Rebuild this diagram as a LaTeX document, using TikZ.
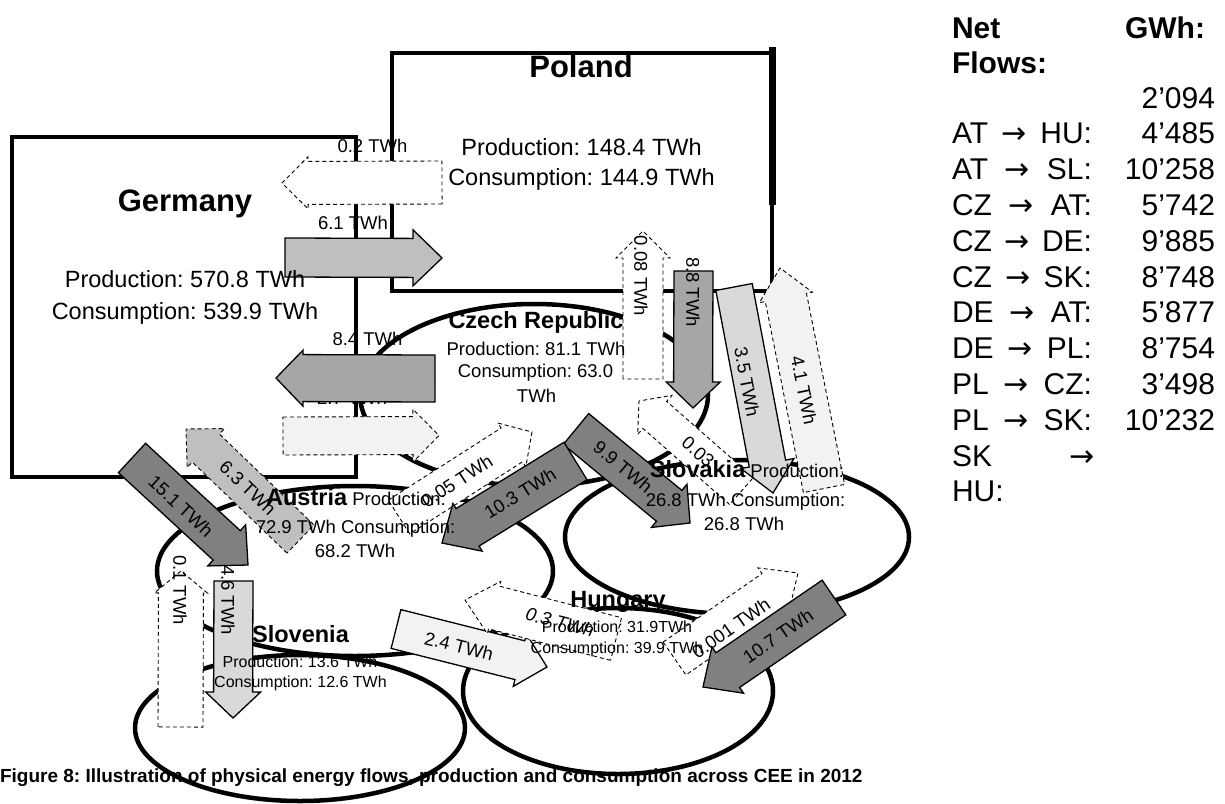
\documentclass[tikz,border=0pt]{standalone}
\usepackage{fontspec}
\setmainfont{Liberation Sans}
\newfontfamily\symfont{DejaVu Sans}
\usetikzlibrary{calc}

\definecolor{flowdark}{HTML}{808080}
\definecolor{flowmid}{HTML}{A6A6A6}
\definecolor{flowlight}{HTML}{BFBFBF}
\definecolor{flowpale}{HTML}{D9D9D9}
\definecolor{flowfaint}{HTML}{F2F2F2}

\newcommand\fsz[1]{\fontsize{#1}{#1}\selectfont}
\newcommand\ra{{\symfont →}}
\frenchspacing

% block arrow: style, name, tail centre, tip, body half width, head half width, head length
\newcommand\blockarrow[7]{%
  \coordinate (#2-t) at (#3);
  \coordinate (#2-h) at (#4);
  \coordinate (#2-b) at ($(#2-h)!#7pt!(#2-t)$);
  \draw[#1] ($(#2-t)!#5pt!90:(#2-h)$) -- ($(#2-b)!#5pt!90:(#2-h)$)
    -- ($(#2-b)!#6pt!90:(#2-h)$) -- (#2-h) -- ($(#2-b)!#6pt!-90:(#2-h)$)
    -- ($(#2-b)!#5pt!-90:(#2-h)$) -- ($(#2-t)!#5pt!-90:(#2-h)$) -- cycle;
}

\tikzset{
  region/.style={draw=black, line width=4.5pt},
  netflow/.style={draw=black, line width=1.3pt, line join=miter},
  minorflow/.style={draw=black, line width=0.9pt, dash pattern=on 4pt off 3pt, line join=miter},
  txt/.style={inner sep=0pt, outer sep=0pt},
  flowlabel/.style={txt, font=\fsz{18.5}},
  bigname/.style={txt, anchor=base, font=\fsz{31}\bfseries},
  bigdata/.style={txt, anchor=base, font=\fsz{23.5}},
  midname/.style={txt, anchor=base, font=\fsz{23.5}\bfseries},
  middata/.style={txt, anchor=base, font=\fsz{18.5}},
  smalldata/.style={txt, anchor=base, font=\fsz{16}},
  legendtext/.style={txt, font=\fsz{30}},
  legendhead/.style={txt, font=\fsz{30}\bfseries, anchor=base west},
}

\begin{document}
\begin{tikzpicture}[x=1pt,y=-1pt]
\useasboundingbox (0,0) rectangle (1225,803);

% labels of the flows between Germany and its neighbours
\node[flowlabel, anchor=base] (l02) at (372.5,152) {0.2 TWh};
\node[flowlabel, anchor=base] (l61) at (353,229) {6.1 TWh};
\node[flowlabel, anchor=base] (l84) at (367.5,345) {8.4 TWh};
\node[flowlabel, anchor=base] (l27) at (352,404) {2.7 TWh};

% countries
\draw[region] (12,137) rectangle (356,477);
\draw[region] (392,53) rectangle (772,291);
\draw[line width=7pt] (772,47) -- (772,205);
\draw[region] (534,395) ellipse [x radius=174pt, y radius=91pt];
\draw[region] (737,537) ellipse [x radius=172pt, y radius=77pt];
\draw[region] (355,571) ellipse [x radius=198pt, y radius=85pt];
\draw[region] (618,691) ellipse [x radius=155pt, y radius=83pt];
\draw[region] (300,728) ellipse [x radius=165pt, y radius=73pt];

% physical flows
\blockarrow{minorflow, fill=white}{a02}{442,182.5}{282,183}{21.5}{26}{26}
\blockarrow{netflow, fill=flowlight}{a61}{285,257.5}{442,258}{19.5}{28}{29}
\blockarrow{netflow, fill=flowmid}{a84}{435,378.5}{276,378}{23.5}{28}{27}
\blockarrow{minorflow, fill=flowfaint}{a27}{283,436}{439,435.5}{19}{26.5}{26}
\blockarrow{minorflow, fill=flowlight}{a63}{300.5,539}{186,429}{19.5}{27}{27.5}
\blockarrow{netflow, fill=flowdark}{a151}{132,458}{248,565}{20}{28}{29}
\blockarrow{minorflow, fill=white}{a01}{180.5,727}{181,571}{22.5}{26.5}{22}
\blockarrow{netflow, fill=flowpale}{a46}{233.5,581}{233,718}{19.5}{27.5}{26}
\blockarrow{minorflow, fill=white}{a008}{643,379}{643,231}{20}{27}{27}
\blockarrow{minorflow, fill=white}{a003}{741.5,491}{639,401}{18}{26}{21}
\blockarrow{netflow, fill=flowmid}{a88}{693.5,271}{693,408}{19.5}{27}{26}
\blockarrow{netflow, fill=flowpale}{a35}{734,287}{773,493}{18.5}{27}{30}
\blockarrow{minorflow, fill=flowfaint}{a41}{824,488.5}{780,268}{21}{27}{30}
\blockarrow{minorflow, fill=white}{a005}{399,517}{532,432}{20}{26}{24}
\blockarrow{netflow, fill=flowdark}{a99}{576,429}{690,523}{20}{28}{27}
\blockarrow{netflow, fill=flowdark}{a103}{575.5,461}{442,543}{22}{28}{30}
\blockarrow{netflow, fill=flowfaint}{a24}{396,629}{547,667}{20}{27}{28}
\blockarrow{minorflow, fill=white}{a03}{616,639}{465,600}{22}{27}{30}
\blockarrow{minorflow, fill=white}{a0001}{674.5,658.5}{798,573}{20}{27}{30}
\blockarrow{netflow, fill=flowdark}{a107}{834,597.5}{703,687}{21}{28}{30}

% labels inside the flows
\node[flowlabel, rotate=-42.7] (l151) at (181,506) {15.1 TWh};
\node[flowlabel, rotate=-43.8] (l63) at (248,488) {6.3 TWh};
\node[flowlabel, rotate=32.6] (l005) at (457,481) {0.05 TWh};
\node[flowlabel, rotate=31.6] (l103) at (520,493) {10.3 TWh};
\node[flowlabel, rotate=-39.5] (l99) at (623,467) {9.9 TWh};
\node[flowlabel, rotate=-41.6] (l003) at (698,452) {0.03};
\node[flowlabel, rotate=-79.3] (l35) at (747,382) {3.5 TWh};
\node[flowlabel, rotate=-78.7] (l41) at (804,390) {4.1 TWh};
\node[flowlabel, rotate=-90] (l88) at (693,292) {8.8 TWh};
\node[flowlabel, rotate=-90] (l008) at (641,276) {0.08 TWh};
\node[flowlabel, rotate=-90] (l01) at (180,590) {0.1 TWh};
\node[flowlabel, rotate=-90] (l46) at (228,600) {4.6 TWh};
\node[flowlabel, rotate=-14] (l24) at (459,646) {2.4 TWh};
\node[flowlabel, rotate=-14.5, font=\fsz{18.5}\itshape] (l03) at (560,622) {0.3 TWh};
\node[flowlabel, rotate=34.7] (l0001) at (731,628) {0.001 TWh};
\node[flowlabel, rotate=34.4] (l107) at (778,636) {10.7 TWh};

% country figures
\node[bigname] (de-name) at (185,211) {Germany};
\node[bigdata] (de-prod) at (185,287) {Production: 570.8 TWh};
\node[bigdata] (de-cons) at (185,319) {Consumption: 539.9 TWh};

\node[bigname] (pl-name) at (581,77) {Poland};
\node[bigdata] (pl-prod) at (581.5,155) {Production: 148.4 TWh};
\node[bigdata] (pl-cons) at (581.5,185) {Consumption: 144.9 TWh};

\node[midname] (cz-name) at (536,328) {Czech Republic};
\node[middata] (cz-prod) at (536,355) {Production: 81.1 TWh};
\node[middata] (cz-cons) at (535.5,377) {Consumption: 63.0};
\node[middata] (cz-unit) at (536.5,402) {TWh};

\node[middata] (at-name) at (356,505) {{\fsz{23.5}\bfseries Austria} Production:};
\node[middata] (at-cons) at (355.5,533) {72.9 TWh Consumption:};
\node[middata] (at-unit) at (355,557) {68.2 TWh};

\node[middata] (sk-name) at (747,477) {{\fsz{23.5}\bfseries Slovakia} Production:};
\node[middata] (sk-cons) at (745.5,506) {26.8 TWh Consumption:};
\node[middata] (sk-unit) at (744,530) {26.8 TWh};

\node[midname] (hu-name) at (618,607) {Hungary};
\node[smalldata] (hu-prod) at (617,632) {Production: 31.9TWh};
\node[smalldata] (hu-cons) at (617,653) {Consumption: 39.9 TWh};

\node[midname] (si-name) at (300.5,642) {Slovenia};
\node[smalldata] (si-prod) at (300,667) {Production: 13.6 TWh};
\node[smalldata] (si-cons) at (300.5,687) {Consumption: 12.6 TWh};

% net flow table
\node[legendhead] (lg-net) at (952,38) {Net};
\node[legendhead, anchor=base east] (lg-gwh) at (1205,38) {GWh:};
\node[legendhead] (lg-flows) at (952,73) {Flows:};
\foreach \i/\v in {0/2’094, 1/4’485, 2/10’258, 3/5’742, 4/9’885, 5/8’748,
                   6/5’877, 7/8’754, 8/3’498, 9/10’232}
  \node[legendtext, anchor=base east] (val\i) at (1215,{108+35.8*\i}) {\v};
\foreach \i/\c in {1/AT \ra{} HU:, 2/AT \ra{} SL:, 3/CZ \ra{} AT:, 4/CZ \ra{} DE:,
                   5/CZ \ra{} SK:, 6/DE \ra{} AT:, 7/DE \ra{} PL:, 8/PL \ra{} CZ:,
                   9/PL \ra{} SK:}
  \node[legendtext, anchor=base west] (lab\i) at (952,{108+35.8*\i}) {\makebox[140pt][s]{\c}};
\node[legendtext, anchor=base west] (lab10) at (952,{108+35.8*10}) {\makebox[143pt][s]{SK \ra}};
\node[legendtext, anchor=base west] (lab11) at (952,{108+35.8*11}) {HU:};

% caption
\node[txt, anchor=base west, font=\fsz{19}\bfseries] (caption) at (0,782)
  {Figure 8: Illustration of physical energy flows, production and consumption across CEE in 2012};
\end{tikzpicture}
\end{document}
